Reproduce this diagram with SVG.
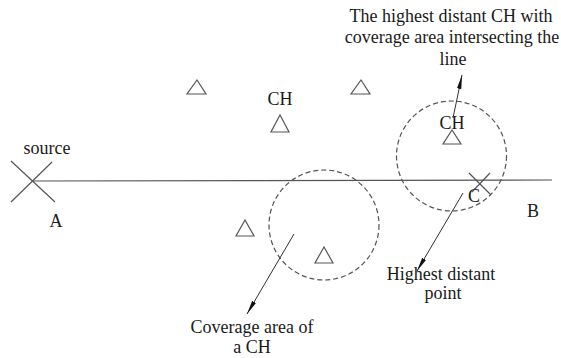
<svg xmlns="http://www.w3.org/2000/svg" width="561" height="358" viewBox="0 0 561 358">
<style>
text{font-family:"Liberation Serif","Times New Roman","DejaVu Serif",serif;font-size:18px;fill:#1a1a1a;text-anchor:middle}
.ln{stroke:#555;stroke-width:1.2;fill:none}
.tri{stroke:#555;stroke-width:1.2;fill:#fff}
.cov{stroke:#555;stroke-width:1.2;fill:none;stroke-dasharray:5,3}
.ar{stroke:#333;stroke-width:1;fill:none;marker-end:url(#ah)}
</style>
<defs>
<marker id="ah" viewBox="0 0 14 6" refX="14" refY="3" markerWidth="14" markerHeight="6" markerUnits="userSpaceOnUse" orient="auto">
<path d="M0,0.8 L14,3 L0,5.2 Z" fill="#111"/>
</marker>
</defs>
<rect width="561" height="358" fill="#fff"/>
<g id="line-AB">
<line class="ln" x1="33" y1="181" x2="552" y2="180"/>
</g>
<g id="source">
<line class="ln" x1="11" y1="161" x2="55" y2="202"/>
<line class="ln" x1="52" y1="162" x2="11" y2="202"/>
<text x="47" y="154" font-family="Liberation Serif, serif">source</text>
<text x="56" y="227" font-family="Liberation Serif, serif">A</text>
</g>
<g id="B"><text x="533" y="217">B</text></g>
<g id="C">
<line class="ln" x1="469" y1="173" x2="491" y2="195"/>
<line class="ln" x1="490" y1="173" x2="472" y2="192"/>
<text x="474" y="202">C</text>
</g>
<g id="coverage1"><circle class="cov" cx="324" cy="225" r="55"/></g>
<g id="coverage2"><circle class="cov" cx="451.5" cy="156" r="55"/></g>
<g id="ch1"><polygon class="tri" points="197,80 187,94 206,94"/></g>
<g id="ch2"><polygon class="tri" points="280,115 271,132 289,132"/><text x="280" y="105">CH</text></g>
<g id="ch3"><polygon class="tri" points="361,80 351,94 370,94"/></g>
<g id="ch4"><polygon class="tri" points="245,220 236,236 254,236"/></g>
<g id="ch5"><polygon class="tri" points="324,247 315,263 333,263"/></g>
<g id="ch6"><polygon class="tri" points="452,130 443,144 461,144"/><text x="452" y="129">CH</text></g>
<g id="connectors">
<line class="ar" x1="453" y1="118" x2="462" y2="75"/>
<line class="ar" x1="463" y1="193" x2="417" y2="271"/>
<line class="ar" x1="294" y1="234" x2="247" y2="314"/>
</g>
<g id="label-title">
<text x="451" y="22">The highest distant CH with</text>
<text x="452" y="43">coverage area intersecting the</text>
<text x="453" y="65">line</text>
</g>
<g id="label-point">
<text x="441" y="280">Highest distant</text>
<text x="443" y="299">point</text>
</g>
<g id="label-coverage">
<text x="252" y="333">Coverage area of</text>
<text x="252" y="353">a CH</text>
</g>
</svg>
